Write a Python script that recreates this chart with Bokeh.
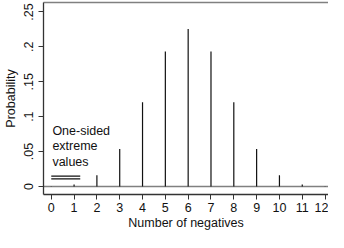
from bokeh.plotting import figure
from bokeh.models import FixedTicker, LinearAxis, Label, Range1d
from bokeh.embed import file_html
from bokeh.resources import INLINE

# data
negatives = [0, 1, 2, 3, 4, 5, 6, 7, 8, 9, 10, 11, 12]
probability = [0.0002, 0.0029, 0.0161, 0.0537, 0.1208, 0.1934, 0.2256,
               0.1934, 0.1208, 0.0537, 0.0161, 0.0029, 0.0002]
y_ticks = [0, 0.05, 0.1, 0.15, 0.2, 0.25]
y_tick_labels = ["0", ".05", ".1", ".15", ".2", ".25"]
extreme_x = [0, 1.27]
extreme_levels = [0.0149, 0.0108]
note = "One-sided\nextreme\nvalues"

FONT = "Liberation Sans"

p = figure(width=328, height=232, output_backend="svg", toolbar_location=None,
           x_range=Range1d(-0.34, 12.15), y_range=Range1d(-0.0115, 0.2635),
           min_border_left=0, min_border_right=0, min_border_top=2, min_border_bottom=0)
p.outline_line_color = None
p.grid.grid_line_color = None
p.background_fill_color = "white"

# zero line
p.line(x=[-1, 14], y=[0, 0], line_color="#808080", line_width=1.6)

# spikes
p.segment(x0=negatives, y0=[0] * len(negatives), x1=negatives, y1=probability,
          line_color="#111111", line_width=1.2)

# one-sided extreme lines
for lvl in extreme_levels:
    p.line(x=extreme_x, y=[lvl, lvl], line_color="#111111", line_width=1.2)

p.add_layout(Label(x=0.05, y=0.089, text=note, text_font=FONT, text_font_size="12.5px",
                   text_baseline="top", text_align="left", text_line_height=1.08,
                   text_color="#111111"))

# axes
xa = p.xaxis[0]
xa.ticker = FixedTicker(ticks=negatives)
xa.axis_label = "Number of negatives"
ya = p.yaxis[0]
ya.ticker = FixedTicker(ticks=y_ticks)
ya.major_label_overrides = {t: l for t, l in zip(y_ticks, y_tick_labels)}
ya.axis_label = "Probability"
ya.major_label_orientation = "vertical"

for ax in (xa, ya):
    ax.axis_line_color = "#333333"
    ax.axis_line_width = 1.3
    ax.major_tick_line_color = "#333333"
    ax.major_tick_in = 0
    ax.major_tick_out = 5
    ax.minor_tick_line_color = None
    ax.major_label_text_font = FONT
    ax.major_label_text_font_size = "12.5px"
    ax.major_label_text_color = "#111111"
    ax.major_label_text_line_height = 1.0
    ax.axis_label_text_font = FONT
    ax.axis_label_text_font_size = "12.5px"
    ax.axis_label_text_font_style = "normal"
    ax.axis_label_text_color = "#111111"
    ax.axis_label_text_line_height = 1.0

xa.major_label_standoff = 3
xa.axis_label_standoff = 1
ya.major_label_standoff = 5
ya.axis_label_standoff = 4

top = LinearAxis(major_tick_line_color=None, minor_tick_line_color=None,
                 major_label_text_font_size="0px", axis_line_color="#808080",
                 axis_line_width=1.3, major_label_standoff=0)
top.ticker = FixedTicker(ticks=[])
p.add_layout(top, "above")

open("out.html", "w").write(file_html(p, INLINE))
